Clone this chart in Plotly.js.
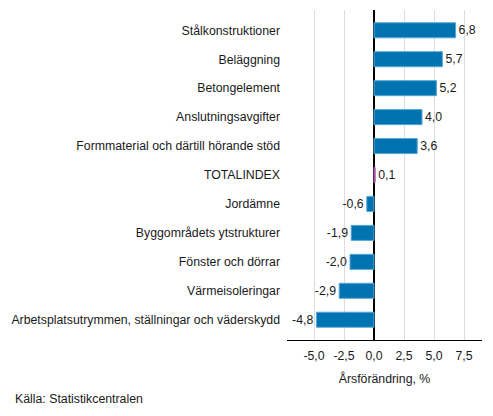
<!DOCTYPE html>
<html>
<head>
<meta charset="utf-8">
<script src="https://cdn.plot.ly/plotly-3.0.1.min.js"></script>
<style>html,body{margin:0;padding:0;background:#fff;}#chart{width:493px;height:416px;}</style>
</head>
<body>
<div id="chart"></div>
<script>
var categories = ["Stålkonstruktioner","Beläggning","Betongelement","Anslutningsavgifter","Formmaterial och därtill hörande stöd","TOTALINDEX","Jordämne","Byggområdets ytstrukturer","Fönster och dörrar","Värmeisoleringar","Arbetsplatsutrymmen, ställningar och väderskydd"];
var values = [6.8, 5.7, 5.2, 4.0, 3.6, 0.1, -0.6, -1.9, -2.0, -2.9, -4.8];
var tickVals = [-5, -2.5, 0, 2.5, 5, 7.5];
var tickLabels = ["-5,0","-2,5","0,0","2,5","5,0","7,5"];

var colors = categories.map(function(c){ return c === "TOTALINDEX" ? "#8c1a8c" : "#0073b0"; });
var lineColors = categories.map(function(c){ return c === "TOTALINDEX" ? "#b060b0" : "#5aa6d6"; });
var labels = values.map(function(v){ return v.toFixed(1).replace('.', ','); });

var FS = 12.3;
var trace = {
  type: 'bar',
  orientation: 'h',
  x: values,
  y: categories,
  width: 0.52,
  marker: {color: colors, line: {color: lineColors, width: 1}},
  text: labels,
  textposition: 'outside',
  cliponaxis: false,
  textfont: {family: 'Liberation Sans, Arial, sans-serif', size: FS, color: '#1a1a1a'},
  hoverinfo: 'none'
};

var layout = {
  width: 493, height: 416,
  margin: {l: 287, r: 11, t: 10, b: 76},
  paper_bgcolor: '#fff', plot_bgcolor: '#fff',
  font: {family: 'Liberation Sans, Arial, sans-serif', size: FS, color: '#1a1a1a'},
  showlegend: false,
  xaxis: {
    range: [-7.25, 9.0],
    tickvals: tickVals, ticktext: tickLabels,
    showgrid: true, gridcolor: '#dcdcdc', gridwidth: 1,
    zeroline: true, zerolinecolor: '#000', zerolinewidth: 1.5,
    showline: true, linecolor: '#000', linewidth: 1,
    ticks: 'outside', ticklen: 4, tickcolor: 'rgba(0,0,0,0)',
    tickfont: {size: FS, color: '#1a1a1a'},
    title: {text: 'Årsförändring, %', font: {size: FS, color: '#1a1a1a'}, standoff: 12},
    fixedrange: true
  },
  yaxis: {
    type: 'category',
    range: [10.7, -0.7],
    showgrid: false, zeroline: false, showline: false,
    ticks: '', ticklabelstandoff: 6,
    tickfont: {size: FS, color: '#1a1a1a'},
    fixedrange: true
  },
  annotations: [{
    xref: 'paper', yref: 'paper',
    x: (13-287)/195, y: (340-399)/330,
    xanchor: 'left', yanchor: 'middle',
    text: 'Källa: Statistikcentralen', showarrow: false,
    font: {size: FS, color: '#1a1a1a'}
  }]
};

Plotly.newPlot('chart', [trace], layout, {displayModeBar: false, staticPlot: true});
</script>
</body>
</html>
